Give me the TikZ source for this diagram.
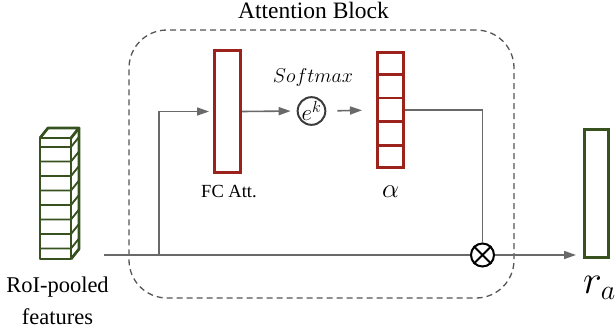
\RequirePackage{fix-cm}
\documentclass[tikz,border=0pt]{standalone}
\usepackage{fontspec}
\setmainfont{Liberation Serif}
\usetikzlibrary{arrows.meta,calc}
\definecolor{featgreen}{RGB}{55,82,30}
\definecolor{attred}{RGB}{155,35,28}
\definecolor{linegray}{RGB}{105,105,105}
\definecolor{dashgray}{RGB}{85,85,85}
\definecolor{circgray}{RGB}{60,60,60}
\begin{document}
\begin{tikzpicture}[x=1pt,y=-1pt,
  conn/.style={draw=linegray,line width=1.6pt},
  arr/.style={conn,-{Triangle[length=12pt,width=8pt]}},
  redbox/.style={draw=attred,line width=3pt,inner sep=0pt,rectangle},
  greenbox/.style={draw=featgreen,line width=3pt,inner sep=0pt,rectangle},
  greenline/.style={draw=featgreen,line width=2.8pt,line join=round},
  cellline/.style={draw=featgreen,line width=1.8pt},
  lbl/.style={inner sep=0pt,anchor=base},
]
\useasboundingbox (0,0) rectangle (616,329);

% attention block container
\node[draw=dashgray,line width=1.3pt,dash pattern=on 6pt off 4pt,rounded corners=38pt,
      minimum width=385pt,minimum height=268pt,inner sep=0pt] (block) at (321.5,164) {};
\node[lbl,font=\fontsize{23.5}{28}\selectfont] (title) at (313.5,18.5) {Attention Block};

% RoI-pooled feature stack (3D)
\draw[greenline] (40,138) rectangle (71,259);
\draw[greenline] (40,138) -- (48,128) -- (79,128) -- (71,138);
\draw[greenline] (79,128) -- (79,249) -- (71,259);
\foreach \yy in {147,161.5,176,190.5,205,219.5,234,248.5}{
  \draw[cellline] (40,\yy) -- (71,\yy) -- (79,\yy-10);
}
\node[lbl,align=center,font=\fontsize{22.5}{32}\selectfont] (featlbl) at (57.5,324.5) {RoI-pooled\\features};

% FC attention box
\node[redbox,minimum width=26pt,minimum height=122pt] (fc) at (227.5,111.5) {};
\node[lbl,font=\fontsize{18.5}{22}\selectfont] (fclbl) at (229,197) {FC Att.};

% softmax circle
\node[circle,draw=circgray,line width=2pt,minimum size=25pt,inner sep=0pt,
      font=\fontsize{23}{26}\selectfont] (ek) at (311.5,111) {$e^k$};
\node[lbl,font=\fontsize{20}{24}\selectfont] (smx) at (313,83) {$Softmax$};

% alpha vector
\node[redbox,minimum width=26pt,minimum height=115pt] (alpha) at (390.5,110) {};
\foreach \i in {1,2,3,4}{
  \draw[draw=attred,line width=2.6pt] ($(alpha.north west)!\i/5!(alpha.south west)$) -- ($(alpha.north east)!\i/5!(alpha.south east)$);
}
\node[lbl,font=\fontsize{27}{30}\selectfont] (alphalbl) at (390.5,197) {$\alpha$};

% output
\node[greenbox,minimum width=24pt,minimum height=128pt] (ra) at (596.5,193.5) {};
\node[inner sep=0pt,anchor=base west,font=\fontsize{40}{44}\selectfont] (ralbl) at (583,293) {$r_a$};

% multiplication
\node[circle,draw=black,line width=2pt,minimum size=23pt,inner sep=0pt] (ox) at (482.5,255) {};
\draw[black,line width=2pt] (ox.north west) -- (ox.south east) (ox.north east) -- (ox.south west);

% connectors
\coordinate (start) at (104,255);
\coordinate (br) at (159,255);
\draw[conn] (start) -- (ox.west);
\draw[arr,shorten >=7pt] (ox.east) -- (ra.west |- ox.east);
\draw[arr,shorten >=4pt] (br) |- (fc.west);
\draw[arr,shorten >=6pt] (fc.east) -- (ek.west);
\draw[arr,shorten <=11pt,shorten >=14pt] (ek.east) -- (alpha.west);
\draw[conn] (alpha.east) -| (ox.north);
\end{tikzpicture}
\end{document}
